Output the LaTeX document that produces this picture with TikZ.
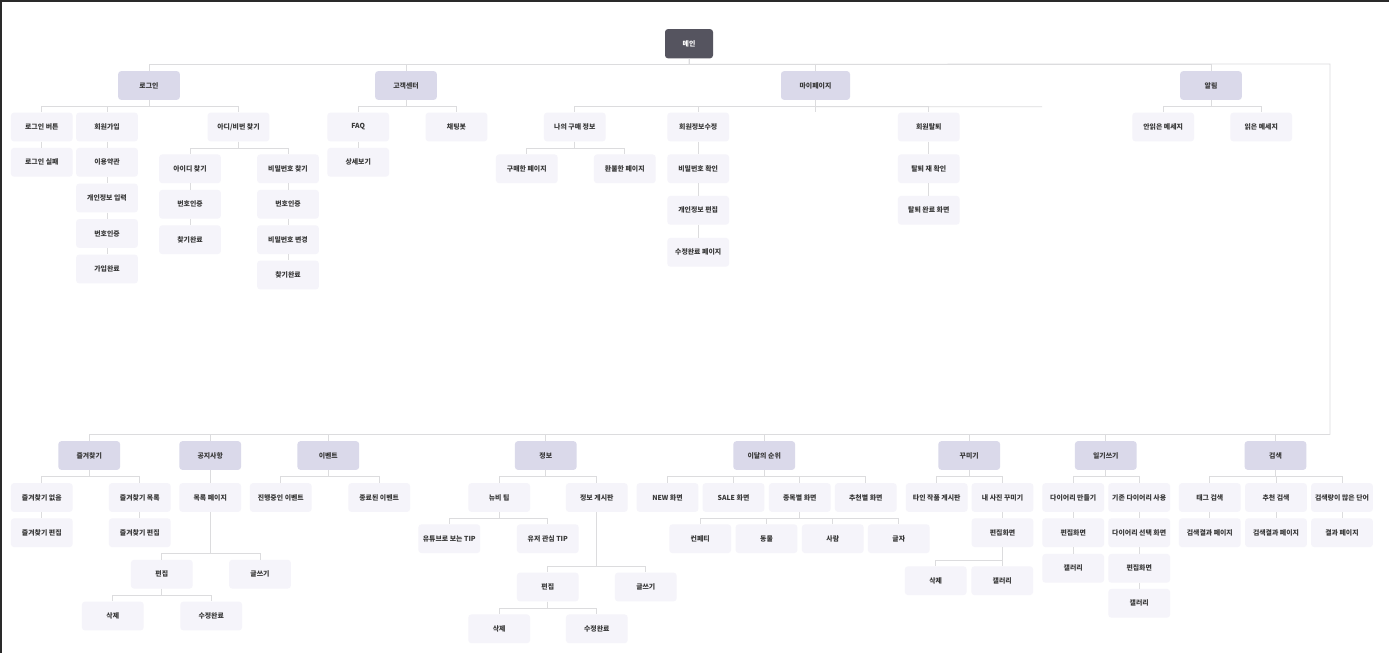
\documentclass[tikz,border=0pt]{standalone}
\usepackage{fontspec}
\setmainfont{Noto Sans CJK KR}
\begin{document}
\begin{tikzpicture}[x=1pt,y=-1pt,
  box/.style={rounded corners=3pt, minimum width=61.7pt, minimum height=28.7pt, inner sep=0pt, font=\fontsize{6.9}{8}\selectfont\bfseries, text=txt},
  mainbox/.style={box, fill=mainfill, text=white, minimum width=48pt, minimum height=29.3pt},
  cat/.style={box, fill=catfill},
  leaf/.style={box, fill=leaffill},
  conn/.style={draw=linec, line width=0.8pt}]
\definecolor{mainfill}{HTML}{55545F}
\definecolor{catfill}{HTML}{DAD9EA}
\definecolor{leaffill}{HTML}{F5F4FA}
\definecolor{linec}{HTML}{DCDCDE}
\definecolor{txt}{HTML}{383838}
\definecolor{frame}{HTML}{2A2A2A}
\useasboundingbox (0,0) rectangle (1389,653);
\fill[white] (0,0) rectangle (1389,653);
\fill[frame] (0,0) rectangle (1389,2.3);
\fill[frame] (0,0) rectangle (2.3,653);

% ---------- top ----------
\node[mainbox] (main) at (689,43.7) {메인};
\node[cat] (login) at (149,85.5) {로그인};
\node[cat] (cs) at (406,85.5) {고객센터};
\node[cat, minimum width=69pt] (my) at (815.5,85.5) {마이페이지};
\node[cat] (alarm) at (1211,85.5) {알림};

\node[leaf] (lbtn) at (41.8,127) {로그인 버튼};
\node[leaf] (lfail) at (41.8,162.3) {로그인 실패};
\node[leaf] (join) at (107,127) {회원가입};
\node[leaf] (terms) at (107,162.3) {이용약관};
\node[leaf] (pinfo) at (107,198) {개인정보 입력};
\node[leaf] (jauth) at (107,233.5) {번호인증};
\node[leaf] (jdone) at (107,269) {가입완료};
\node[leaf] (find) at (238.5,127) {아디/비번 찾기};
\node[leaf] (fid) at (190,168.8) {아이디 찾기};
\node[leaf] (fidauth) at (190,204.3) {번호인증};
\node[leaf] (fiddone) at (190,239.7) {찾기완료};
\node[leaf] (fpw) at (288,168.8) {비밀번호 찾기};
\node[leaf] (fpwauth) at (288,204.3) {번호인증};
\node[leaf] (fpwchg) at (288,239.7) {비밀번호 변경};
\node[leaf] (fpwdone) at (288,275) {찾기완료};

\node[leaf] (faq) at (358.2,127) {FAQ};
\node[leaf] (faqd) at (358.2,162.3) {상세보기};
\node[leaf] (chat) at (456.5,127) {채팅봇};

\node[leaf] (buy) at (574.8,127) {나의 구매 정보};
\node[leaf] (bought) at (526.8,168.8) {구매한 페이지};
\node[leaf] (refund) at (624.8,168.8) {환불한 페이지};
\node[leaf] (edit) at (698.2,127) {회원정보수정};
\node[leaf] (pwchk) at (698.2,168.7) {비밀번호 확인};
\node[leaf] (pedit) at (698.2,210.3) {개인정보 편집};
\node[leaf] (edone) at (698.2,252.3) {수정완료 페이지};
\node[leaf] (quit) at (928.8,127) {회원탈퇴};
\node[leaf] (qchk) at (928.8,168.7) {탈퇴 재 확인};
\node[leaf] (qdone) at (928.8,210.3) {탈퇴 완료 화면};

\node[leaf] (unread) at (1163.2,127) {안읽은 메세지};
\node[leaf] (read) at (1261.2,127) {읽은 메세지};

% ---------- bottom ----------
\node[cat] (fav) at (89.2,455.5) {즐겨찾기};
\node[cat] (notice) at (210.2,455.5) {공지사항};
\node[cat] (event) at (328.3,455.5) {이벤트};
\node[cat] (info) at (545.8,455.5) {정보};
\node[cat] (rank) at (764.2,455.5) {이달의 순위};
\node[cat] (deco) at (969.2,455.5) {꾸미기};
\node[cat] (diary) at (1105.8,455.5) {일기쓰기};
\node[cat] (search) at (1275.5,455.5) {검색};

\node[leaf] (favnone) at (41.8,497.5) {즐겨찾기 없음};
\node[leaf] (favnoneedit) at (41.8,532.7) {즐겨찾기 편집};
\node[leaf] (favlist) at (139.8,497.5) {즐겨찾기 목록};
\node[leaf] (favlistedit) at (139.8,532.7) {즐겨찾기 편집};

\node[leaf] (nlist) at (210.2,497.5) {목록 페이지};
\node[leaf] (nedit) at (161.8,574.2) {편집};
\node[leaf] (nwrite) at (260,574.2) {글쓰기};
\node[leaf] (ndel) at (112.8,616) {삭제};
\node[leaf] (ndone) at (211.2,616) {수정완료};

\node[leaf] (evon) at (280.8,497.5) {진행중인 이벤트};
\node[leaf] (evoff) at (379.2,497.5) {종료된 이벤트};

\node[leaf] (newbie) at (499.2,497.5) {뉴비 팁};
\node[leaf] (yt) at (449.3,538.7) {유튜브로 보는 TIP};
\node[leaf] (utip) at (547.8,538.7) {유저 관심 TIP};
\node[leaf] (board) at (596.8,497.5) {정보 게시판};
\node[leaf] (bedit) at (547.8,587) {편집};
\node[leaf] (bwrite) at (645.8,587) {글쓰기};
\node[leaf] (bdel) at (499.2,628.8) {삭제};
\node[leaf] (bdone) at (596.8,628.8) {수정완료};

\node[leaf] (rnew) at (667.5,497.5) {NEW 화면};
\node[leaf] (rsale) at (733.5,497.5) {SALE 화면};
\node[leaf] (rkind) at (799.8,497.5) {종목별 화면};
\node[leaf] (rrec) at (865.8,497.5) {추천별 화면};
\node[leaf] (k1) at (700.2,538.7) {컨페티};
\node[leaf] (k2) at (766.5,538.7) {동물};
\node[leaf] (k3) at (832.8,538.7) {사람};
\node[leaf] (k4) at (898.8,538.7) {글자};

\node[leaf] (other) at (936.7,497.5) {타인 작품 게시판};
\node[leaf] (mine) at (1002.5,497.5) {내 사진 꾸미기};
\node[leaf] (mineedit) at (1002.5,532.7) {편집화면};
\node[leaf] (mdel) at (935.7,580.7) {삭제};
\node[leaf] (mgal) at (1002.2,580.7) {갤러리};

\node[leaf] (dnew) at (1073.2,497.5) {다이어리 만들기};
\node[leaf] (dnewedit) at (1073.2,532.7) {편집화면};
\node[leaf] (dnewgal) at (1073.2,568.3) {갤러리};
\node[leaf] (dold) at (1139.2,497.5) {기존 다이어리 사용};
\node[leaf] (doldsel) at (1139.2,532.7) {다이어리 선택 화면};
\node[leaf] (doldedit) at (1139.2,568.3) {편집화면};
\node[leaf] (doldgal) at (1139.2,603.3) {갤러리};

\node[leaf] (stag) at (1209.8,497.5) {태그 검색};
\node[leaf] (stagr) at (1209.8,532.7) {검색결과 페이지};
\node[leaf] (srec) at (1276,497.5) {추천 검색};
\node[leaf] (srecr) at (1276,532.7) {검색결과 페이지};
\node[leaf] (smany) at (1342,497.5) {검색량이 많은 단어};
\node[leaf] (smanyr) at (1342,532.7) {결과 페이지};

% ---------- connectors ----------
\begin{scope}[on background layer/.style={}]
\coordinate (rt) at (1330,64);
\coordinate (rb) at (1330,434);
\coordinate (myend) at (1042,106.7);
\end{scope}

\path[conn] (main.south) -- ++(0,5.7) -- (rt) -- (rb);
\foreach \c in {login,cs,my,alarm} \path[conn] (main.south) -- ++(0,5.7) -| (\c.north);
\foreach \c in {fav,notice,event,info,rank,deco,diary,search} \path[conn] (rb) -| (\c.north);

\foreach \c in {lbtn,join,find} \path[conn] (login.south) -- ++(0,6.7) -| (\c.north);
\path[conn] (lbtn) -- (lfail);
\path[conn] (join) -- (terms); \path[conn] (terms) -- (pinfo);
\path[conn] (pinfo) -- (jauth); \path[conn] (jauth) -- (jdone);
\foreach \c in {fid,fpw} \path[conn] (find.south) -- ++(0,6.4) -| (\c.north);
\path[conn] (fid) -- (fidauth); \path[conn] (fidauth) -- (fiddone);
\path[conn] (fpw) -- (fpwauth); \path[conn] (fpwauth) -- (fpwchg); \path[conn] (fpwchg) -- (fpwdone);

\foreach \c in {faq,chat} \path[conn] (cs.south) -- ++(0,6.7) -| (\c.north);
\path[conn] (faq) -- (faqd);

\foreach \c in {buy,edit,quit} \path[conn] (my.south) -- ++(0,6.7) -| (\c.north);
\path[conn] (my.south) -- ++(0,12.3);
\path[conn] (my.south) ++(0,6.7) -- (myend);
\foreach \c in {bought,refund} \path[conn] (buy.south) -- ++(0,6.4) -| (\c.north);
\path[conn] (edit) -- (pwchk); \path[conn] (pwchk) -- (pedit); \path[conn] (pedit) -- (edone);
\path[conn] (quit) -- (qchk); \path[conn] (qchk) -- (qdone);

\foreach \c in {unread,read} \path[conn] (alarm.south) -- ++(0,6.2) -| (\c.north);

\foreach \c in {favnone,favlist} \path[conn] (fav.south) -- ++(0,6) -| (\c.north);
\path[conn] (favnone) -- (favnoneedit);
\path[conn] (favlist) -- (favlistedit);

\path[conn] (notice) -- (nlist);
\foreach \c in {nedit,nwrite} \path[conn] (nlist.south) -- ++(0,41) -| (\c.north);
\foreach \c in {ndel,ndone} \path[conn] (nedit.south) -- ++(0,6.7) -| (\c.north);

\foreach \c in {evon,evoff} \path[conn] (event.south) -- ++(0,6) -| (\c.north);

\foreach \c in {newbie,board} \path[conn] (info.south) -- ++(0,6) -| (\c.north);
\foreach \c in {yt,utip} \path[conn] (newbie.south) -- ++(0,6.6) -| (\c.north);
\foreach \c in {bedit,bwrite} \path[conn] (board.south) -- ++(0,54.6) -| (\c.north);
\foreach \c in {bdel,bdone} \path[conn] (bedit.south) -- ++(0,6.4) -| (\c.north);

\foreach \c in {rnew,rsale,rkind,rrec} \path[conn] (rank.south) -- ++(0,6) -| (\c.north);
\foreach \c in {k1,k2,k3,k4} \path[conn] (rkind.south) -- ++(0,6.6) -| (\c.north);

\foreach \c in {other,mine} \path[conn] (deco.south) -- ++(0,6) -| (\c.north);
\path[conn] (mine) -- (mineedit);
\foreach \c in {mdel,mgal} \path[conn] (mineedit.south) -- ++(0,12.7) -| (\c.north);

\foreach \c in {dnew,dold} \path[conn] (diary.south) -- ++(0,6) -| (\c.north);
\path[conn] (dnew) -- (dnewedit); \path[conn] (dnewedit) -- (dnewgal);
\path[conn] (dold) -- (doldsel); \path[conn] (doldsel) -- (doldedit); \path[conn] (doldedit) -- (doldgal);

\foreach \c in {stag,srec,smany} \path[conn] (search.south) -- ++(0,6) -| (\c.north);
\path[conn] (stag) -- (stagr);
\path[conn] (srec) -- (srecr);
\path[conn] (smany) -- (smanyr);
\end{tikzpicture}
\end{document}
